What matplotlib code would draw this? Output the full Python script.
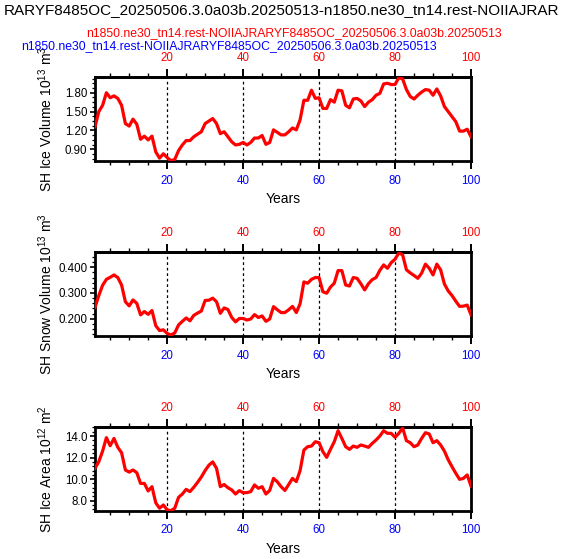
import matplotlib
matplotlib.use("Agg")
import matplotlib.pyplot as plt
from matplotlib.ticker import MultipleLocator, FormatStrFormatter
import numpy as np

plt.rcParams["font.family"] = ["Liberation Sans", "DejaVu Sans"]
plt.rcParams["mathtext.fontset"] = "custom"
plt.rcParams["mathtext.rm"] = "Liberation Sans"
plt.rcParams["mathtext.it"] = "Liberation Sans"

title = "RARYF8485OC_20250506.3.0a03b.20250513-n1850.ne30_tn14.rest-NOIIAJRAR"
case_red = "n1850.ne30_tn14.rest-NOIIAJRARYF8485OC_20250506.3.0a03b.20250513"
case_blue = "n1850.ne30_tn14.rest-NOIIAJRARYF8485OC_20250506.3.0a03b.20250513"

years = np.arange(1, 101)

ice_volume = [
    1.26, 1.50, 1.60, 1.80, 1.72, 1.75, 1.71, 1.60, 1.31, 1.27,
    1.38, 1.30, 1.06, 1.11, 1.05, 1.11, 0.86, 0.76, 0.83, 0.77,
    0.72, 0.74, 0.88, 0.97, 1.04, 1.04, 1.10, 1.14, 1.18, 1.31,
    1.35, 1.39, 1.31, 1.15, 1.18, 1.10, 1.02, 0.97, 0.98, 1.01,
    0.97, 1.01, 1.08, 1.08, 1.12, 0.98, 1.01, 1.21, 1.17, 1.13,
    1.13, 1.18, 1.24, 1.21, 1.37, 1.68, 1.68, 1.84, 1.71, 1.72,
    1.55, 1.55, 1.69, 1.65, 1.84, 1.83, 1.60, 1.56, 1.70, 1.71,
    1.67, 1.58, 1.65, 1.69, 1.76, 1.79, 1.94, 1.95, 1.93, 1.93,
    2.04, 2.02, 1.85, 1.74, 1.70, 1.76, 1.81, 1.85, 1.84, 1.76,
    1.86, 1.75, 1.58, 1.50, 1.42, 1.34, 1.19, 1.19, 1.22, 1.10,
]

snow_volume = [
    0.244, 0.290, 0.330, 0.353, 0.361, 0.370, 0.360, 0.331, 0.266, 0.250,
    0.273, 0.260, 0.215, 0.228, 0.217, 0.232, 0.173, 0.154, 0.157, 0.143,
    0.137, 0.145, 0.176, 0.190, 0.203, 0.192, 0.213, 0.222, 0.230, 0.271,
    0.272, 0.280, 0.266, 0.221, 0.242, 0.236, 0.205, 0.188, 0.201, 0.201,
    0.195, 0.199, 0.216, 0.205, 0.211, 0.190, 0.199, 0.247, 0.235, 0.224,
    0.224, 0.235, 0.248, 0.224, 0.258, 0.343, 0.338, 0.353, 0.360, 0.360,
    0.305, 0.299, 0.323, 0.338, 0.387, 0.387, 0.331, 0.327, 0.360, 0.357,
    0.336, 0.312, 0.336, 0.352, 0.360, 0.388, 0.409, 0.396, 0.418, 0.431,
    0.456, 0.448, 0.390, 0.378, 0.368, 0.357, 0.377, 0.412, 0.396, 0.370,
    0.412, 0.390, 0.335, 0.308, 0.290, 0.268, 0.248, 0.249, 0.253, 0.215,
]

ice_area = [
    11.00, 11.62, 12.60, 13.85, 13.10, 13.78, 12.95, 12.45, 10.85, 10.65,
    10.85, 10.60, 9.60, 9.60, 8.90, 9.30, 7.80, 7.30, 7.60, 7.15,
    7.07, 7.30, 8.31, 8.62, 9.05, 8.84, 9.24, 9.70, 10.20, 10.80,
    11.30, 11.60, 11.00, 9.30, 9.50, 9.20, 9.00, 8.62, 8.93, 8.74,
    8.75, 8.84, 9.46, 9.15, 9.30, 8.62, 8.95, 10.07, 9.75, 9.30,
    8.95, 9.50, 10.07, 9.77, 10.79, 12.70, 13.01, 13.07, 13.47, 13.38,
    12.55, 12.02, 12.76, 13.47, 14.49, 13.78, 13.01, 12.76, 13.07, 12.95,
    13.17, 13.07, 12.95, 13.32, 13.63, 14.00, 14.49, 14.25, 14.25, 13.88,
    14.25, 14.75, 13.57, 13.38, 13.01, 13.17, 13.78, 14.31, 14.19, 13.38,
    13.57, 13.17, 12.60, 11.80, 11.15, 10.54, 9.98, 10.07, 10.39, 9.36,
]

panels = [
    (ice_volume, "SH Ice Volume 10$^{13}$ m$^{3}$", (0.715, 2.045), 0.30, 0.075, "%.2f", 77.3, 161.0),
    (snow_volume, "SH Snow Volume 10$^{13}$ m$^{3}$", (0.133, 0.458), 0.10, 0.02, "%.3f", 252.3, 336.0),
    (ice_area, "SH Ice Area 10$^{12}$ m$^{2}$", (7.07, 14.81), 2.0, 0.4, "%.1f", 427.3, 510.7),
]

W, H = 566, 559
fig = plt.figure(figsize=(W / 100, H / 100), dpi=100)

for data, ylabel, ylim, major, minor, fmt, top, bottom in panels:
    ax = fig.add_axes([95 / W, 1 - bottom / H, 376 / W, (bottom - top) / H])
    ax.plot(years, data, color="#ff0000", lw=2.3, zorder=3)
    for xv in [20, 40, 60, 80]:
        ax.axvline(xv, color="black", lw=0.9, ls=(0, (2.2, 2.2)), zorder=2)
    ax.set_xlim(1, 100)
    ax.set_ylim(*ylim)

    ax.xaxis.set_major_locator(MultipleLocator(20))
    ax.xaxis.set_minor_locator(MultipleLocator(5))
    ax.yaxis.set_major_locator(MultipleLocator(major))
    ax.yaxis.set_minor_locator(MultipleLocator(minor))
    ax.yaxis.set_major_formatter(FormatStrFormatter(fmt))

    ax.tick_params(axis="x", which="major", direction="out", length=5.8, width=1.4,
                   labelsize=8.3, labelcolor="blue", pad=4)
    ax.tick_params(axis="x", which="minor", direction="out", length=2.9, width=1.0)
    ax.tick_params(axis="y", which="major", direction="out", length=3.6, width=1.2,
                   labelsize=8.3, pad=2)
    ax.tick_params(axis="y", which="minor", direction="out", length=2.2, width=0.9)
    ax.tick_params(right=False, top=False)

    sec = ax.secondary_xaxis("top")
    sec.xaxis.set_major_locator(MultipleLocator(20))
    sec.xaxis.set_minor_locator(MultipleLocator(5))
    sec.tick_params(axis="x", which="major", direction="out", length=5.8, width=1.4,
                    labelsize=8.3, labelcolor="red", pad=4)
    sec.tick_params(axis="x", which="minor", direction="out", length=2.9, width=1.0)
    sec.spines["top"].set_linewidth(2.0)

    for sp in ax.spines.values():
        sp.set_linewidth(2.0)

    ax.set_xlabel("Years", fontsize=10)
    ax.xaxis.set_label_coords(0.5, -(192 - 161) / (bottom - top))

    fig.text(46 / W, 1 - (top + bottom) / 2 / H, ylabel, rotation=90,
             ha="center", va="center", fontsize=10)

fig.text(281.5 / W, 1 - 10 / H, title, ha="center", va="center", fontsize=11)
fig.text(293.5 / W, 1 - 33 / H, case_red, ha="center", va="center", fontsize=8.8, color="red")
fig.text(229 / W, 1 - 46 / H, case_blue, ha="center", va="center", fontsize=8.8, color="blue")

fig.savefig("out.png", dpi=100)
